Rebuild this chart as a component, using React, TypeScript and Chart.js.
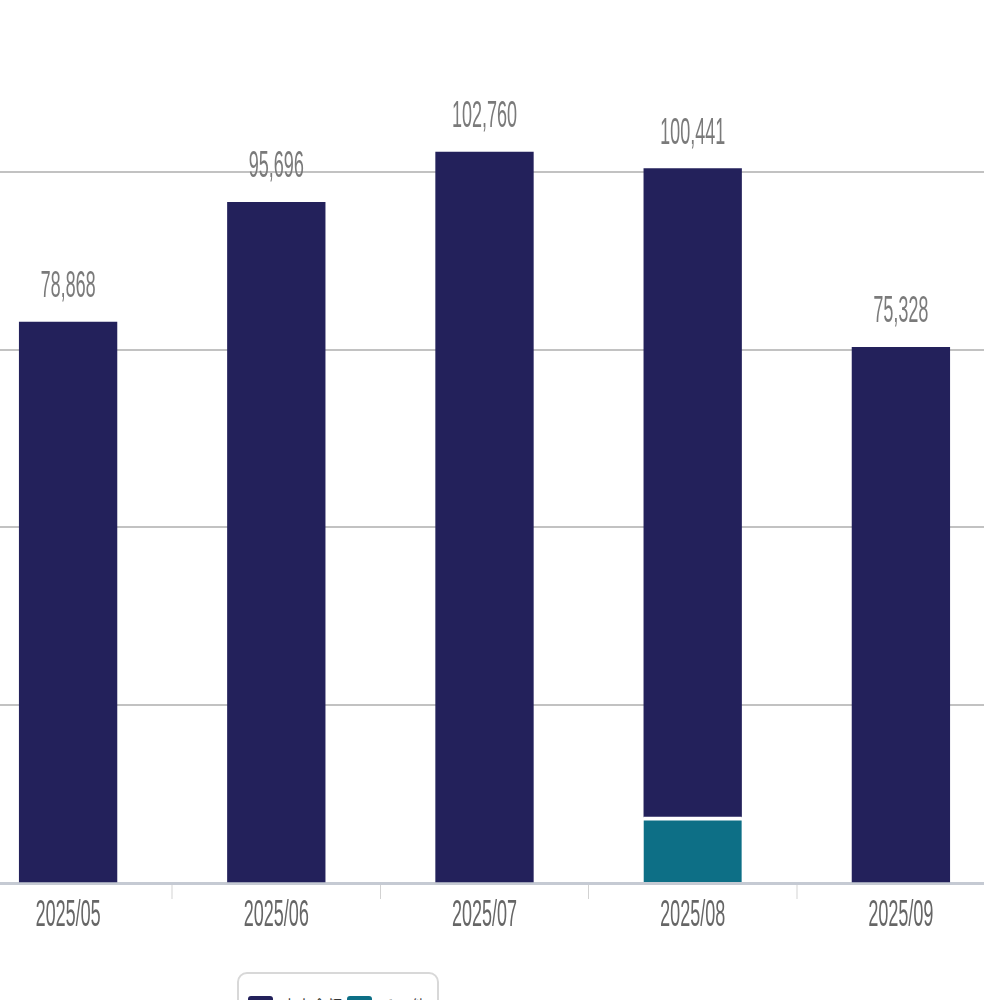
import React, { useEffect, useRef } from "react";
import { Chart, registerables } from "chart.js";

Chart.register(...registerables);

const categories = ["2025/05", "2025/06", "2025/07", "2025/08", "2025/09"];
const mainSeries = [78868, 95696, 102760, 91141, 75328];
const subSeries = [null, null, null, 9300, null];
const mainLabel = "売上金額";
const subLabel = "その他";
const yTickStep = 25000;
const yMax = 125000;

const NAVY = "#23215b";
const TEAL = "#0d6f86";
const SX = 0.5; // horizontal squeeze of the picture

const totalsPlugin = {
  id: "totals",
  afterDatasetsDraw(chart: any) {
    const ctx = chart.ctx;
    ctx.save();
    ctx.font = "36px 'Liberation Sans', Arial, sans-serif";
    ctx.fillStyle = "#7a7a7a";
    ctx.textAlign = "center";
    ctx.textBaseline = "alphabetic";
    categories.forEach((_, i) => {
      const total = (mainSeries[i] || 0) + (subSeries[i] || 0);
      let topY = Infinity;
      let x = 0;
      chart.data.datasets.forEach((ds: any, di: number) => {
        const v = ds.data[i];
        if (v == null) return;
        const el = chart.getDatasetMeta(di).data[i];
        if (el && el.y < topY) {
          topY = el.y;
          x = el.x;
        }
      });
      ctx.fillText(total.toLocaleString("en-US"), x, topY - 25);
    });
    ctx.restore();
  },
};

function ChartCanvas() {
  const ref = useRef<HTMLCanvasElement | null>(null);
  useEffect(() => {
    if (!ref.current) return;
    const chart = new Chart(ref.current, {
      type: "bar",
      data: {
        labels: categories,
        datasets: [
          {
            label: subLabel,
            data: subSeries as any,
            backgroundColor: TEAL,
            borderColor: "#ffffff",
            borderWidth: { top: 4, left: 0, right: 0, bottom: 0 } as any,
            borderSkipped: false,
            barThickness: 196,
          },
          {
            label: mainLabel,
            data: mainSeries,
            backgroundColor: NAVY,
            borderWidth: 0,
            barThickness: 196,
          },
        ],
      },
      options: {
        responsive: false,
        animation: false,
        devicePixelRatio: 1,
        layout: { padding: 0 },
        plugins: {
          legend: { display: false },
          tooltip: { enabled: false },
        },
        scales: {
          x: {
            stacked: true,
            offset: true,
            grid: {
              display: true,
              drawOnChartArea: false,
              drawTicks: true,
              tickLength: 16,
              color: "#d2d2d2",
              lineWidth: 2,
              offset: true,
            },
            border: { display: true, color: "#c5cad3", width: 3 },
            ticks: {
              color: "#666666",
              padding: -5,
              font: { size: 36, family: "'Liberation Sans', Arial, sans-serif" },
              maxRotation: 0,
            },
            afterFit: (scale: any) => {
              scale.height = 60;
            },
          },
          y: {
            stacked: true,
            min: 0,
            max: yMax,
            ticks: { display: false, stepSize: yTickStep },
            grid: { color: "#c2c2c2", lineWidth: 2, drawTicks: false },
            border: { display: false },
          },
        },
      },
      plugins: [totalsPlugin],
    });
    return () => chart.destroy();
  }, []);
  return (
    <canvas
      ref={ref}
      width={2082}
      height={949}
      style={{
        position: "absolute",
        left: -36,
        top: -6,
        width: 2082,
        height: 949,
        transform: `scaleX(${SX})`,
        transformOrigin: "0 0",
      }}
    />
  );
}

export default function App() {
  return (
    <div
      style={{
        position: "absolute",
        left: 0,
        top: 0,
        width: 984,
        height: 1000,
        overflow: "hidden",
        background: "#ffffff",
        fontFamily: "'Noto Sans CJK JP', 'Noto Sans', sans-serif",
      }}
    >
      <ChartCanvas />
      <div
        style={{
          position: "absolute",
          left: 237,
          top: 972,
          width: 202,
          height: 60,
          border: "2px solid #d8d8d8",
          borderRadius: 10,
          background: "#fff",
          boxSizing: "border-box",
        }}
      />
      <div style={{ position: "absolute", left: 248, top: 996, width: 25, height: 25, background: NAVY, borderRadius: 3 }} />
      <div style={{ position: "absolute", left: 282, top: 994, fontSize: 15, color: "#333", whiteSpace: "nowrap" }}>{mainLabel}</div>
      <div style={{ position: "absolute", left: 347, top: 996, width: 25, height: 25, background: TEAL, borderRadius: 3 }} />
      <div style={{ position: "absolute", left: 381, top: 994, fontSize: 15, color: "#333", whiteSpace: "nowrap" }}>{subLabel}</div>
    </div>
  );
}
